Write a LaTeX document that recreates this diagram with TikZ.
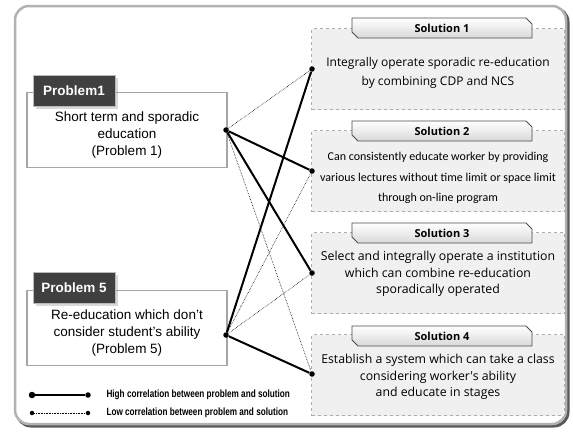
\documentclass[tikz,border=0pt]{standalone}
\usepackage{fontspec}
\setmainfont{Liberation Sans}
\newfontfamily\solfont{Open Sans}
\newfontfamily\calfont{Carlito}
\newfontfamily\legfont[FakeStretch=0.78]{Liberation Sans}
\usetikzlibrary{shadows,shapes.misc}

\begin{document}
\begin{tikzpicture}[x=1pt,y=-1pt,
    probbox/.style={draw=gray!70, line width=1.2pt, fill=white,
      minimum width=200pt, minimum height=75pt},
    probtext/.style={align=center, font=\fontsize{13.5}{17}\selectfont},
    probtab/.style={draw=gray!55, line width=1pt, fill=black!75, text=white,
      font=\bfseries\fontsize{13.5}{14}\selectfont, minimum width=82pt,
      minimum height=31pt, inner sep=0pt, drop shadow={opacity=0.3}},
    solbox/.style={draw=gray!65, dashed, fill=gray!12,
      minimum width=253pt, minimum height=81pt},
    soltab/.style={chamfered rectangle, chamfered rectangle xsep=3pt,
      chamfered rectangle ysep=3pt,
      chamfered rectangle corners={north east, south west},
      draw=black!70, line width=0.8pt, top color=white,
      bottom color=gray!30, minimum width=180pt,
      minimum height=20pt, inner sep=0pt,
      font=\solfont\bfseries\fontsize{11}{13}\selectfont},
    soltext/.style={align=center, font=\solfont\fontsize{12}{19}\selectfont},
    hi/.style={line width=2pt},
    lo/.style={densely dotted, line width=0.6pt},
    dot/.style={circle, fill=black, inner sep=0pt, minimum size=5.5pt},
    legtext/.style={anchor=west, font=\legfont\bfseries\fontsize{10.5}{11}\selectfont}]
  \useasboundingbox (0,0) rectangle (573,432);
  % frame
  \draw[rounded corners=14pt, line width=3pt, black!65] (17,8) rectangle (568,426);
  \draw[rounded corners=14pt, line width=2.5pt, gray!60, fill=white] (15,6) rectangle (566,424);

  % problems
  \node[probbox] (pbox1) at (127,130) {};
  \node[probtext] (ptext1) at (127,135) {Short term and sporadic\\education\\(Problem 1)};
  \node[probtab] (ptab1) at (74,91) {Problem1};
  \node[probbox] (pbox5) at (127,328) {};
  \node[probtext] (ptext5) at (127,333) {Re-education which don't\\consider student's ability\\(Problem 5)};
  \node[probtab] (ptab5) at (74,288) {Problem 5};

  % solutions
  \node[solbox] (sbox1) at (438,69) {};
  \node[soltext] (stext1) at (438,73) {Integrally operate sporadic re-education\\by combining CDP and NCS};
  \node[soltab] (stab1) at (442,28) {Solution 1};
  \node[solbox] (sbox2) at (438,171) {};
  \node[soltext, font=\calfont\fontsize{12}{20.5}\selectfont] (stext2) at (438,178)
    {Can consistently educate worker by providing\\various lectures without time limit or space limit\\through on-line program};
  \node[soltab] (stab2) at (442,131) {Solution 2};
  \node[solbox] (sbox3) at (438,273) {};
  \node[soltext, font=\solfont\fontsize{12.3}{16.5}\selectfont] (stext3) at (438,274)
    {Select and integrally operate a institution\\which can combine re-education\\sporadically operated};
  \node[soltab] (stab3) at (442,233) {Solution 3};
  \node[solbox] (sbox4) at (438,375) {};
  \node[soltext, font=\solfont\fontsize{12.3}{16.5}\selectfont] (stext4) at (438,377)
    {Establish a system which can take a class\\considering worker's ability\\and educate in stages};
  \node[soltab] (stab4) at (442,336) {Solution 4};

  % end points
  \node[dot] (p1) at (226,130) {};
  \node[dot] (p5) at (226,335) {};
  \node[dot] (s1) at (312,69) {};
  \node[dot] (s2) at (312,171) {};
  \node[dot] (s3) at (312,273) {};
  \node[dot] (s4) at (312,374) {};
  \begin{scope}[-]
    \draw[lo] (p1) to (s1);
    \draw[hi] (p1) to (s2);
    \draw[hi] (p1) to (s3);
    \draw[lo] (p1) to (s4);
    \draw[hi] (p5) to (s1);
    \draw[lo] (p5) to (s2);
    \draw[lo] (p5) to (s3);
    \draw[hi] (p5) to (s4);
  \end{scope}

  % legend
  \node[dot, minimum size=6.5pt] (hl) at (32,395) {};
  \node[dot] (hr) at (88,395) {};
  \draw[hi] (hl) -- (hr);
  \node[legtext] (htext) at (103,395) {High correlation between problem and solution};
  \node[dot, minimum size=4.5pt] (ll) at (32,413) {};
  \node[dot, minimum size=4.5pt] (lr) at (88,413) {};
  \draw[lo] (ll) -- (lr);
  \node[legtext] (ltext) at (103,413) {Low correlation between problem and solution};
\end{tikzpicture}
\end{document}
